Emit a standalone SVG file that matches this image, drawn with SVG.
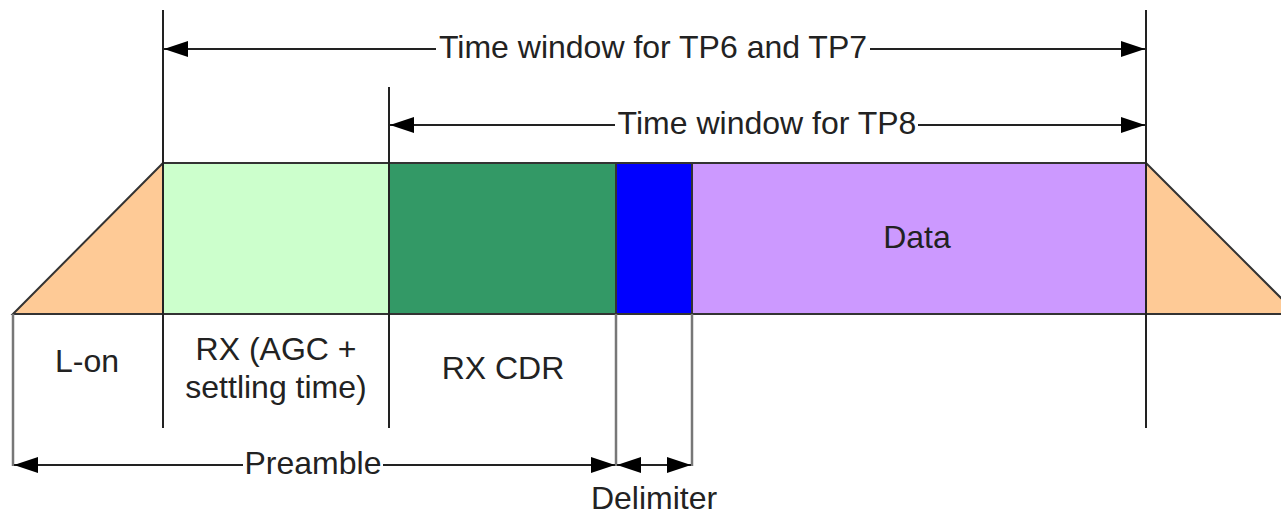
<svg xmlns="http://www.w3.org/2000/svg" width="1281" height="516" viewBox="0 0 1281 516">
<style>
.t{font-family:"Liberation Sans",Arial,sans-serif;font-size:32px;fill:#222;text-anchor:middle}
.b{stroke:#333;stroke-width:2}
.v{stroke:#222;stroke-width:2;fill:none}
.g{stroke:#777;stroke-width:2.5;fill:none}
.a{stroke:#222;stroke-width:2;fill:none;marker-end:url(#ah)}
</style>
<defs>
<marker id="ah" viewBox="0 0 24 16" refX="24" refY="8" markerWidth="24" markerHeight="16" markerUnits="userSpaceOnUse" orient="auto">
<path d="M0,0 L24,8 L0,16 z" fill="#000"/>
</marker>
</defs>
<g id="ramp-up"><polygon points="13,314 163,163 163,314" fill="#FECA96" class="b"/></g>
<g id="rx-agc"><rect x="163" y="163" width="226" height="151" fill="#CCFFCC" class="b"/></g>
<g id="rx-cdr"><rect x="389" y="163" width="227" height="151" fill="#339966" class="b"/></g>
<g id="delimiter"><rect x="616" y="163" width="76" height="151" fill="#0000FF" class="b"/></g>
<g id="data"><rect x="692" y="163" width="454" height="151" fill="#CC99FF" class="b"/><text class="t" x="917" y="248">Data</text></g>
<g id="ramp-down"><polygon points="1146,163 1297,314 1146,314" fill="#FECA96" class="b"/></g>
<g id="labels">
<text class="t" x="87" y="372">L-on</text>
<text class="t" x="276" y="360">RX (AGC +</text>
<text class="t" x="276" y="398">settling time)</text>
<text class="t" x="503" y="379">RX CDR</text>
<text class="t" x="653" y="58">Time window for TP6 and TP7</text>
<text class="t" x="767" y="134">Time window for TP8</text>
<text class="t" x="313" y="474">Preamble</text>
<text class="t" x="654" y="509">Delimiter</text>
</g>
<g id="connectors">
<line class="v" x1="163" y1="10" x2="163" y2="428"/>
<line class="v" x1="389" y1="87" x2="389" y2="428"/>
<line class="v" x1="1146" y1="10" x2="1146" y2="428"/>
<line class="g" x1="13" y1="314" x2="13" y2="466"/>
<line class="g" x1="616" y1="314" x2="616" y2="466"/>
<line class="g" x1="692" y1="314" x2="692" y2="466"/>
<line class="a" x1="436" y1="49" x2="164" y2="49"/>
<line class="a" x1="870" y1="49" x2="1145" y2="49"/>
<line class="a" x1="615" y1="125" x2="390" y2="125"/>
<line class="a" x1="918" y1="125" x2="1145" y2="125"/>
<line class="a" x1="243" y1="465" x2="14" y2="465"/>
<line class="a" x1="383" y1="465" x2="615" y2="465"/>
<line class="a" x1="654" y1="465" x2="617" y2="465"/>
<line class="a" x1="654" y1="465" x2="691" y2="465"/>
</g>
</svg>
